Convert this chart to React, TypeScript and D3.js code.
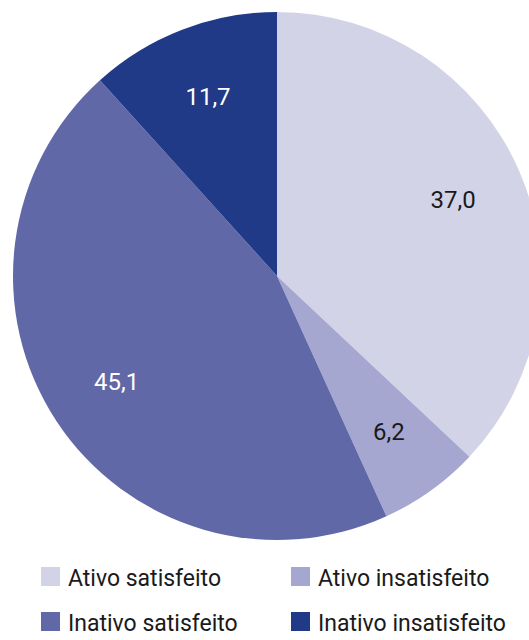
import React from "react";
import * as d3 from "d3";

const categories = ["Ativo satisfeito", "Ativo insatisfeito", "Inativo satisfeito", "Inativo insatisfeito"];
const values = [37.0, 6.2, 45.1, 11.7];
const colors = ["#D3D3E8", "#A5A7D0", "#6068A8", "#203A88"];
const labelColors = ["#1a1a1a", "#1a1a1a", "#ffffff", "#ffffff"];

const W = 529;
const H = 640;
const cx = 277;
const cy = 276;
const R = 264;
const labelR = 192;
const FONT = "Roboto, 'Liberation Sans', sans-serif";

export default function App() {
  const pie = d3.pie<number>().sort(null).value((d) => d)(values);
  const arc = d3.arc<d3.PieArcDatum<number>>().innerRadius(0).outerRadius(R);
  const labelArc = d3.arc<d3.PieArcDatum<number>>().innerRadius(labelR).outerRadius(labelR);
  const fmt = (v: number) => v.toFixed(1).replace(".", ",");

  const legendX = d3.scaleOrdinal<number, number>().domain([0, 1]).range([41, 291]);
  const legendY = d3.scaleOrdinal<number, number>().domain([0, 1]).range([567, 612]);

  return (
    <svg width={W} height={H} style={{ position: "absolute", left: 0, top: 0, background: "#fff" }} fontFamily={FONT}>
      <g transform={`translate(${cx},${cy})`}>
        {pie.map((p, i) => (
          <path key={i} d={arc(p) || ""} fill={colors[i]} />
        ))}
        {pie.map((p, i) => {
          const [x, y] = labelArc.centroid(p);
          return (
            <text key={i} x={x} y={y} dy="0.35em" textAnchor="middle" fontSize={24} fill={labelColors[i]}>
              {fmt(values[i])}
            </text>
          );
        })}
      </g>
      {categories.map((c, i) => {
        const col = i % 2;
        const row = Math.floor(i / 2);
        const x = legendX(col);
        const y = legendY(row);
        return (
          <g key={c}>
            <rect x={x} y={y} width={19} height={19} fill={colors[i]} />
            <text x={x + 27} y={y + 18.5} fontSize={23} fill="#1a1a1a">
              {c}
            </text>
          </g>
        );
      })}
    </svg>
  );
}
